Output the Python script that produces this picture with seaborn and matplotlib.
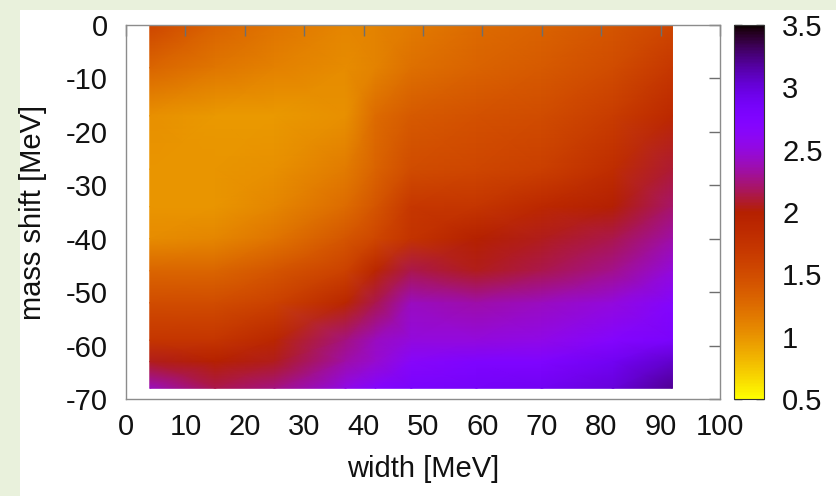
import numpy as np
import matplotlib
matplotlib.use("Agg")
import matplotlib.pyplot as plt
import seaborn as sns
from matplotlib.patches import Rectangle

# ---- data ----
widths = [4, 15, 25, 37, 42, 48, 59, 70, 82, 92]            # width [MeV]
mass_shifts = [0, -8, -17, -27, -34, -40, -46, -52, -59, -63, -68]  # mass shift [MeV]
row_m0   = [1.55, 1.32, 1.20, 1.08, 1.10, 1.15, 1.25, 1.32, 1.42, 1.55]
row_m8   = [1.30, 1.18, 1.12, 1.05, 1.10, 1.22, 1.32, 1.38, 1.50, 1.70]
row_m17  = [1.02, 0.98, 0.98, 1.02, 1.25, 1.38, 1.45, 1.50, 1.65, 1.88]
row_m27  = [1.00, 1.00, 1.02, 1.15, 1.32, 1.50, 1.55, 1.62, 1.82, 2.10]
row_m34  = [1.00, 1.00, 1.08, 1.25, 1.42, 1.70, 1.72, 1.88, 2.00, 2.20]
row_m40  = [1.05, 1.08, 1.20, 1.42, 1.55, 1.75, 1.98, 2.05, 2.15, 2.35]
row_m46  = [1.30, 1.30, 1.42, 1.60, 1.90, 2.15, 2.05, 2.15, 2.28, 2.50]
row_m52  = [1.50, 1.50, 1.60, 1.90, 2.15, 2.40, 2.35, 2.40, 2.50, 2.70]
row_m59  = [1.72, 1.72, 1.90, 2.25, 2.40, 2.50, 2.50, 2.55, 2.70, 2.80]
row_m63  = [2.05, 1.98, 2.05, 2.35, 2.45, 2.65, 2.75, 2.75, 2.90, 3.05]
row_m68  = [2.40, 2.15, 2.25, 2.55, 2.70, 2.80, 2.85, 2.90, 3.00, 3.20]
x_ticks = list(range(0, 101, 10))
y_ticks = list(range(0, -71, -10))
cbar_ticks = [0.5, 1, 1.5, 2, 2.5, 3, 3.5]
cbar_labels = ["0.5", "1", "1.5", "2", "2.5", "3", "3.5"]

Z = np.array([row_m0, row_m8, row_m17, row_m27, row_m34, row_m40,
              row_m46, row_m52, row_m59, row_m63, row_m68])

# ---- style ----
sns.set_theme(style="white")
plt.rcParams['font.family'] = ['Liberation Sans', 'DejaVu Sans']
plt.rcParams['axes.unicode_minus'] = False
FS = 21
W, H = 836, 496

fig = plt.figure(figsize=(W / 100, H / 100), dpi=100, facecolor='#e9f1dc')
fig.patches.append(Rectangle((20 / W, 0), 1, 1 - 10 / H, transform=fig.transFigure,
                             facecolor='white', edgecolor='none', zorder=-10))

ax = fig.add_axes([126 / W, 1 - 399 / H, (720 - 126) / W, (399 - 25) / H])
ax.set_facecolor('white')
mesh = ax.pcolormesh(widths, mass_shifts, Z, shading='gouraud', cmap='gnuplot_r',
                     vmin=0.5, vmax=3.5, zorder=1, rasterized=True)
ax.set_xlim(0, 100)
ax.set_ylim(-70, 0)
ax.set_xticks(x_ticks)
ax.set_yticks(y_ticks)
for s in ax.spines.values():
    s.set_color('#8c8c8c')
    s.set_linewidth(1.0)
    s.set_zorder(3)
ax.tick_params(axis='both', which='both', direction='in', length=8, width=1,
               color='#6e6e6e', top=True, right=True, labelsize=FS,
               labelcolor='#111111')
ax.tick_params(axis='x', pad=10)
ax.tick_params(axis='y', pad=13)
ax.set_axisbelow(False)
for t in ax.xaxis.get_ticklines() + ax.yaxis.get_ticklines():
    t.set_zorder(4)

ax.set_xlabel('width [MeV]', fontsize=FS, color='#111111')
ax.set_ylabel('mass shift [MeV]', fontsize=FS, color='#111111')
ax.xaxis.set_label_coords(0.5, -0.15)
ax.yaxis.set_label_coords(-0.133, 0.5)

# ---- colorbar ----
cax = fig.add_axes([734 / W, 1 - 399 / H, 30 / W, (399 - 25) / H])
cb = fig.colorbar(mesh, cax=cax)
cb.set_ticks(cbar_ticks)
cb.set_ticklabels(cbar_labels)
cb.outline.set_edgecolor('#333333')
cb.outline.set_linewidth(0.8)
cax.tick_params(direction='in', length=6, width=1, color='#222222',
                left=True, right=True, labelsize=FS, pad=13, labelcolor='#111111')

fig.savefig('out.png', dpi=100, facecolor=fig.get_facecolor())
